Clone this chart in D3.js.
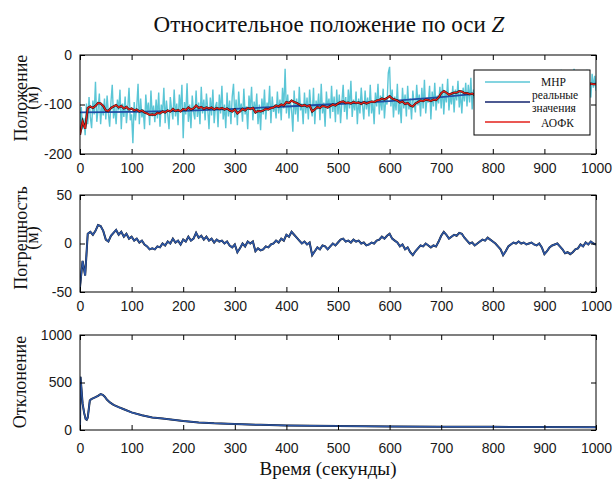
<!DOCTYPE html>
<html><head><meta charset="utf-8">
<script src="https://cdn.jsdelivr.net/npm/d3@7"></script>
<style>
html,body{margin:0;padding:0;background:#fff;}
svg{display:block;}
.tick text{font-family:"Liberation Sans",Arial,sans-serif;font-size:14px;fill:#1a1a1a;}
</style></head>
<body><svg id="c" width="614" height="483"></svg>
<script>
// ---------- DATA ----------
const xTicks = [0,100,200,300,400,500,600,700,800,900,1000];
const yTicks1 = [-200,-100,0];
const yTicks2 = [-50,0,50];
const yTicks3 = [0,500,1000];

// MHP (cyan) measurements, every 2.5 s from 0 to 1000 (one row = 50 s)
const mhp = [
-155,-105,-150,-128,-162,-98,-140,-85,-125,-148,-92,-120,-54,-135,-110,-78,-140,-100,-122,-88,
-130,-82,-118,-145,-95,-60,-128,-105,-140,-90,-112,-70,-150,-98,-125,-84,-138,-108,-66,-132,
-120,-178,-95,-132,-104,-58,-140,-88,-126,-110,-150,-80,-118,-96,-142,-72,-124,-102,-136,-90,
-128,-76,-145,-100,-118,-66,-138,-92,-120,-150,-85,-110,-130,-70,-124,-98,-142,-80,-112,-60,
-168,-95,-120,-57,-135,-100,-148,-82,-115,-130,-72,-125,-96,-140,-64,-118,-90,-132,-78,-108,
-150,-86,-122,-70,-138,-104,-95,-146,-80,-118,-62,-130,-100,-148,-76,-124,-92,-140,-84,-58,
-126,-90,-142,-74,-115,-98,-135,-68,-120,-104,-150,-82,-110,-64,-132,-94,-118,-78,-140,-100,
-152,-88,-120,-70,-130,-96,-112,-62,-138,-84,-115,-100,-128,-74,-118,-90,-132,-66,-108,-28,
-118,-80,-128,-94,-110,-155,-72,-120,-88,-135,-64,-112,-98,-140,-76,-118,-86,-130,-70,-106,
-124,-66,-140,-92,-110,-78,-132,-58,-118,-96,-145,-74,-108,-88,-128,-62,-115,-84,-136,-70,
-120,-80,-138,-95,-60,-115,-85,-130,-70,-108,-52,-125,-90,-112,-74,-140,-88,-118,-66,-102,
-130,-72,-110,-86,-124,-60,-118,-92,-140,-76,-104,-58,-120,-82,-112,-68,-128,-90,-100,-36,
-24,-104,-70,-126,-84,-112,-58,-120,-96,-138,-66,-108,-80,-124,-62,-110,-88,-130,-72,-98,
-116,-60,-102,-80,-124,-66,-108,-50,-118,-86,-96,-62,-130,-74,-104,-56,-112,-82,-98,-64,
-108,-58,-120,-72,-96,-48,-112,-80,-100,-62,-116,-70,-92,-52,-106,-76,-118,-66,-94,-56,
-104,-60,-96,-46,-110,-70,-90,-54,-100,-66,-88,-42,-106,-74,-94,-58,-112,-64,-86,-50,
-98,-52,-88,-44,-104,-66,-84,-40,-96,-60,-110,-50,-82,-62,-92,-38,-100,-58,-86,-48,
-94,-46,-84,-58,-98,-40,-80,-62,-90,-44,-102,-56,-76,-36,-92,-54,-84,-48,-96,-42,
-88,-50,-80,-34,-92,-56,-76,-44,-86,-40,-96,-52,-74,-30,-84,-58,-90,-46,-78,-38,
-84,-44,-72,-28,-88,-52,-70,-36,-80,-48,-92,-40,-68,-30,-78,-54,-86,-38,-66,-42,
-72];

// true values (blue), every 50 s
const trueT = [0,50,100,150,200,250,300,350,400,450,500,550,600,650,700,750,800,850,900,950,1000];
const trueV = [-116,-115.5,-115,-114,-113,-111,-109,-106.5,-104,-101.5,-99,-96,-93,-89,-85,-80,-75,-70,-66,-62,-58];

// AOFK estimate (red), every 5 s
const aofk = [
-161,-134,-149,-107,-104,-107,-103,-97,-98,-103,-112,-113,-107,-104,-101,-106,-103,-108,-105,-110,
-108,-112,-110,-114,-112,-116,-118,-121,-120,-121,-117,-118,-114,-116,-112,-114,-109,-113,-111,-114,
-109,-111,-106,-110,-108,-102,-107,-105,-109,-106,-108,-106,-110,-107,-109,-107,-110,-108,-112,-114,
-110,-118,-114,-109,-112,-107,-109,-107,-116,-113,-114,-112,-109,-110,-107,-106,-102,-104,-100,-102,
-95,-97,-92,-95,-97,-100,-103,-101,-104,-102,-114,-110,-105,-107,-103,-104,-106,-103,-100,-102,
-98,-95,-94,-97,-96,-98,-95,-97,-96,-99,-95,-98,-96,-94,-95,-92,-91,-88,-90,-87,
-83,-88,-90,-92,-96,-94,-99,-97,-102,-104,-98,-95,-92,-93,-90,-91,-93,-90,-91,-86,
-77,-73,-76,-80,-78,-76,-76,-73,-74,-77,-77,-79,-78,-81,-79,-77,-75,-76,-73,-75,
-73,-75,-78,-81,-86,-82,-76,-74,-72,-73,-70,-72,-71,-72,-71,-70,-71,-72,-69,-73,
-77,-74,-70,-68,-66,-65,-68,-71,-75,-74,-73,-70,-67,-66,-62,-63,-59,-61,-58,-59,
-59];

// estimation error, every 5 s
const err = [-45,-18,-33,10,12,9,13,19,18,13,4,2,8,11,14,9,12,7,10,5,
7,3,5,1,3,-1,-3,-6,-5,-6,-3,-4,0,-2,2,0,5,1,3,-1,
4,2,7,3,5,11,6,8,4,7,3,5,1,4,2,3,0,2,-2,-4,
-1,-9,-5,0,-3,2,0,2,-8,-5,-7,-6,-3,-4,-1,0,3,1,5,3,
9,7,12,9,6,3,0,2,-1,1,-12,-8,-4,-6,-2,-3,-6,-3,0,-2,
1,4,5,2,3,1,4,2,3,0,1,-2,-1,1,0,3,4,7,5,8,
10,5,3,1,-3,-1,-6,-4,-9,-12,-8,-5,-2,-3,0,-2,-4,-2,-3,2,
8,12,9,5,7,9,8,11,10,6,3,0,1,-2,0,2,4,3,6,4,
2,0,-3,-6,-12,-8,-3,-1,1,0,2,0,1,-1,0,1,-1,-2,0,-4,
-11,-8,-4,-2,-1,0,-3,-6,-10,-9,-11,-9,-6,-5,-1,-3,1,-1,2,0,-1];

// deviation (covariance) curve
const devT = [0,1,3,5,8,11,13,15,17,19,22,26,30,35,40,44,48,52,58,65,75,85,100,120,140,160,180,200,230,260,300,350,400,450,500,600,700,800,900,1000];
const devV = [20,560,420,280,180,115,108,130,220,310,325,335,345,360,378,370,350,320,290,265,240,218,185,155,132,120,108,95,80,70,62,54,48,44,42,38,35,33,31,30];

// ---------- LAYOUT ----------
const svg = d3.select("#c");
const L = 80, R = 596;
const panels = [{top:55,bottom:154},{top:195,bottom:292},{top:335,bottom:430}];
const x = d3.scaleLinear().domain([0,1000]).range([L,R]);
const y1 = d3.scaleLinear().domain([-200,0]).range([panels[0].bottom,panels[0].top]);
const y2 = d3.scaleLinear().domain([-50,50]).range([panels[1].bottom,panels[1].top]);
const y3 = d3.scaleLinear().domain([0,1000]).range([panels[2].bottom,panels[2].top]);

const serif = '"Liberation Serif","Times New Roman",serif';

panels.forEach((p,i)=>{
  svg.append("clipPath").attr("id","clip"+i).append("rect")
    .attr("x",L).attr("y",p.top).attr("width",R-L).attr("height",p.bottom-p.top);
});

function drawAxes(p, y, yt, xLabelPad){
  const g = svg.append("g");
  g.append("g").attr("transform",`translate(0,${p.bottom})`)
   .call(d3.axisBottom(x).tickValues(xTicks).tickSizeInner(-5).tickSizeOuter(0).tickPadding(xLabelPad).tickFormat(d=>String(d)));
  g.append("g").attr("transform",`translate(0,${p.top})`)
   .call(d3.axisTop(x).tickValues(xTicks).tickSizeInner(-5).tickSizeOuter(0).tickFormat(""));
  g.append("g").attr("transform",`translate(${L},0)`)
   .call(d3.axisLeft(y).tickValues(yt).tickSizeInner(-5).tickSizeOuter(0).tickPadding(8).tickFormat(d=>String(d)));
  g.append("g").attr("transform",`translate(${R},0)`)
   .call(d3.axisRight(y).tickValues(yt).tickSizeInner(-5).tickSizeOuter(0).tickFormat(""));
  g.selectAll(".domain").remove();
  g.selectAll(".tick line").attr("stroke","#000");
  g.append("rect").attr("x",L).attr("y",p.top).attr("width",R-L).attr("height",p.bottom-p.top)
   .attr("fill","none").attr("stroke","#000").attr("stroke-width",1);
}

// ---------- PANEL 1 ----------
const g1 = svg.append("g").attr("clip-path","url(#clip0)");
g1.append("path").datum(mhp.map((v,i)=>[i*2.5,v]))
  .attr("d", d3.line().x(d=>x(d[0])).y(d=>y1(d[1])))
  .attr("fill","none").attr("stroke","#5bc6d6").attr("stroke-width",1.4);
g1.append("path").datum(trueT.map((t,i)=>[t,trueV[i]]))
  .attr("d", d3.line().x(d=>x(d[0])).y(d=>y1(d[1])))
  .attr("fill","none").attr("stroke","#1f4ea6").attr("stroke-width",1.8);
const aofkPts = aofk.map((v,i)=>[i*5,v]);
g1.append("path").datum(aofkPts)
  .attr("d", d3.line().x(d=>x(d[0])).y(d=>y1(d[1])))
  .attr("fill","none").attr("stroke","#111").attr("stroke-width",2.2);
g1.append("path").datum(aofkPts)
  .attr("d", d3.line().x(d=>x(d[0])).y(d=>y1(d[1])))
  .attr("fill","none").attr("stroke","#e3201b").attr("stroke-width",1.4);
drawAxes(panels[0], y1, yTicks1, 9);

// legend
const lg = svg.append("g");
lg.append("rect").attr("x",474).attr("y",70).attr("width",116).attr("height",65)
  .attr("fill","#fff").attr("stroke","#000").attr("stroke-width",1);
const legItems = [
  {c:"#5bc6d6", y:82, lines:["МНР"], ty:[86], tx:541},
  {c:"#13236e", y:102, lines:["реальные","значения"], ty:[99,112], tx:532},
  {c:"#e3201b", y:122, lines:["АОФК"], ty:[127], tx:541}
];
legItems.forEach(it=>{
  lg.append("line").attr("x1",485).attr("x2",530).attr("y1",it.y).attr("y2",it.y)
    .attr("stroke",it.c).attr("stroke-width",1.6);
  it.lines.forEach((s,j)=>{
    lg.append("text").attr("x",it.tx).attr("y",it.ty[j]).text(s)
      .attr("font-family",serif).attr("font-size",11.5).attr("fill","#111");
  });
});

// ---------- PANEL 2 ----------
const g2 = svg.append("g").attr("clip-path","url(#clip1)");
const errPts = err.map((v,i)=>[i*5,v]);
g2.append("path").datum(errPts)
  .attr("d", d3.line().x(d=>x(d[0])).y(d=>y2(d[1])))
  .attr("fill","none").attr("stroke","#111").attr("stroke-width",2.0);
g2.append("path").datum(errPts)
  .attr("d", d3.line().x(d=>x(d[0])).y(d=>y2(d[1])))
  .attr("fill","none").attr("stroke","#2d57a8").attr("stroke-width",1.5);
drawAxes(panels[1], y2, yTicks2, 9);

// ---------- PANEL 3 ----------
const g3 = svg.append("g").attr("clip-path","url(#clip2)");
const devPts = devT.map((t,i)=>[t,devV[i]]);
g3.append("path").datum(devPts)
  .attr("d", d3.line().x(d=>x(d[0])).y(d=>y3(d[1])))
  .attr("fill","none").attr("stroke","#111").attr("stroke-width",2.0);
g3.append("path").datum(devPts)
  .attr("d", d3.line().x(d=>x(d[0])).y(d=>y3(d[1])))
  .attr("fill","none").attr("stroke","#2d57a8").attr("stroke-width",1.5);
drawAxes(panels[2], y3, yTicks3, 13);

// ---------- TEXTS ----------
const title = svg.append("text").attr("x",329).attr("y",32).attr("text-anchor","middle")
  .attr("font-family",serif).attr("font-size",23).attr("fill","#111");
title.append("tspan").text("Относительное положение по оси ");
title.append("tspan").attr("font-style","italic").text("Z");

svg.append("text").attr("x",328).attr("y",475).attr("text-anchor","middle")
  .attr("font-family",serif).attr("font-size",19).attr("fill","#111").text("Время (секунды)");

function ylabel(lines, cy, xs){
  lines.forEach((s,j)=>{
    svg.append("text").attr("transform",`translate(${xs[j]},${cy}) rotate(-90)`)
      .attr("text-anchor","middle").attr("font-family",serif).attr("font-size",18)
      .attr("fill","#111").text(s);
  });
}
ylabel(["Положение","(м)"], 98, [27,38]);
ylabel(["Погрешность","(м)"], 238, [27,38]);
ylabel(["Отклонение"], 382, [26]);
</script></body></html>
